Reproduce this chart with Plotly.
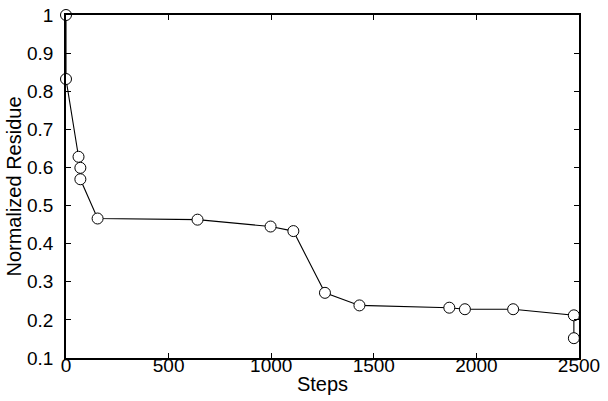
import plotly.graph_objects as go

steps = [0, 0, 61, 70, 70, 154, 641, 997, 1108, 1262, 1430, 1868, 1944, 2179, 2475, 2475]
residue = [1.0, 0.832, 0.628, 0.599, 0.569, 0.466, 0.463, 0.445, 0.433, 0.271, 0.238,
           0.232, 0.228, 0.228, 0.212, 0.152]
x_ticks = [0, 500, 1000, 1500, 2000, 2500]
y_ticks = [0.1, 0.2, 0.3, 0.4, 0.5, 0.6, 0.7, 0.8, 0.9, 1]
y_tick_text = ["0.1", "0.2", "0.3", "0.4", "0.5", "0.6", "0.7", "0.8", "0.9", "1"]

fig = go.Figure(go.Scatter(
    x=steps, y=residue, mode="lines+markers",
    line=dict(color="black", width=1.1),
    marker=dict(symbol="circle", size=11, color="white", line=dict(color="black", width=1)),
    cliponaxis=False,
))

family = "Liberation Sans, Arial, Helvetica, sans-serif"
tickfont = dict(family=family, size=19, color="black")
titlefont = dict(family=family, size=20, color="black")
fig.update_layout(
    width=608, height=401,
    margin=dict(l=66, r=29, t=15, b=43),
    paper_bgcolor="white", plot_bgcolor="white",
    showlegend=False,
    font=tickfont,
    xaxis=dict(range=[0, 2500], tickvals=x_ticks, ticks="inside", ticklen=5,
               showline=True, linecolor="black", linewidth=1.5, mirror="ticks",
               tickcolor="black", showgrid=False, zeroline=False, automargin=False,
               tickfont=tickfont, ticklabelstandoff=-11, ticklabeloverflow="allow",
               title=dict(text="Steps", standoff=2, font=titlefont)),
    yaxis=dict(range=[0.1, 1], tickvals=y_ticks, ticktext=y_tick_text, ticks="inside", ticklen=5,
               showline=True, linecolor="black", linewidth=1.5, mirror="ticks",
               tickcolor="black", showgrid=False, zeroline=False, automargin=False,
               tickfont=tickfont, ticklabelstandoff=7, ticklabeloverflow="allow",
               title=dict(text="Normalized Residue", standoff=0, font=titlefont)),
)

# remove the page's default body margin so the figure fills the window exactly
fig.write_html("out.html",
               config={"displayModeBar": False},
               post_script="document.body.style.margin='0';document.body.style.overflow='hidden';")
